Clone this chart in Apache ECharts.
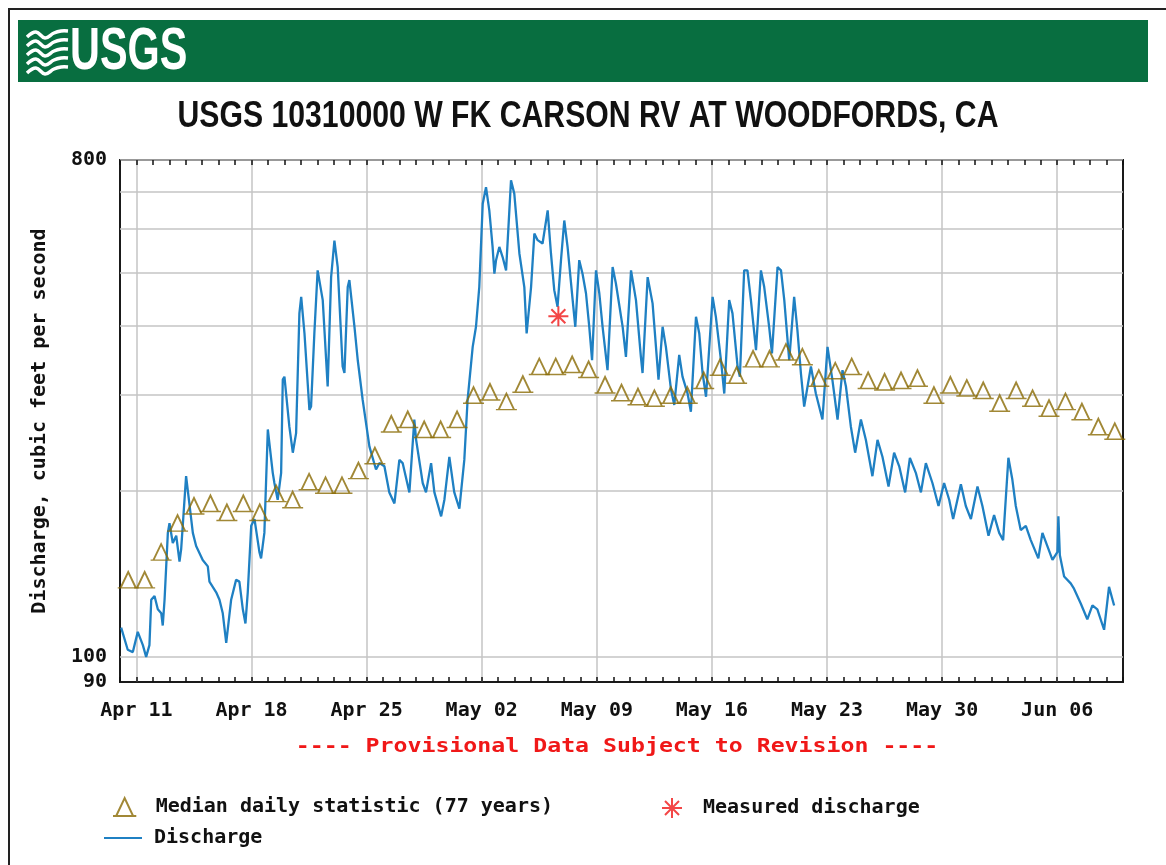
<!DOCTYPE html>
<html>
<head>
<meta charset="utf-8">
<title>USGS 10310000 W FK CARSON RV AT WOODFORDS, CA</title>
<script src="https://cdn.jsdelivr.net/npm/echarts@6/dist/echarts.min.js"></script>
<style>
  html, body { margin: 0; padding: 0; background: #ffffff; }
  #chart { width: 1166px; height: 865px; }
</style>
</head>
<body>
<div id="chart"></div>
<script>
// Station and labels
const stationTitle = 'USGS 10310000 W FK CARSON RV AT WOODFORDS, CA';
const provisionalNote = '---- Provisional Data Subject to Revision ----';
const yAxisTitle = 'Discharge, cubic feet per second';

// X axis: days counted from Apr 10 00:00 (period runs Apr 10 – Jun 10)
const periodDays = 61;
const weekTickDays = [1, 8, 15, 22, 29, 36, 43, 50, 57];
const weekTickLabels = ['Apr 11', 'Apr 18', 'Apr 25', 'May 02', 'May 09', 'May 16', 'May 23', 'May 30', 'Jun 06'];

// Y axis (log scale, cfs)
const yMin = 90;
const yMax = 800;
const yGridValues = [100, 200, 300, 400, 500, 600, 700, 800];
const yLabelValues = [90, 100, 800];

// Median daily statistic (77 years), one value per day starting Apr 10
const medianCfs = [
  138, 138, 155, 175, 188, 190, 183, 190, 183, 198,
  193, 208, 205, 205, 218, 232, 265, 270, 259, 259,
  270, 299, 303, 291, 313, 337, 337, 340, 333, 312,
  302, 297, 295, 299, 299, 318, 336, 325, 348, 348,
  358, 351, 321, 331, 337, 318, 316, 318, 321, 299,
  312, 308, 305, 289, 305, 295, 283, 291, 279, 262,
  257
];

// Measured discharge: [day, cfs]
const measured = [[26.66, 416]];

// Discharge (provisional): [day, cfs]
const discharge = [
  [0.07, 113], [0.47, 103], [0.78, 102], [1.08, 111], [1.39, 105], [1.59, 100], [1.79, 105],
  [1.90, 127], [2.10, 129], [2.30, 122], [2.51, 120], [2.60, 114], [2.71, 127], [2.91, 168],
  [3.01, 175], [3.21, 161], [3.42, 166], [3.62, 149], [3.72, 157], [4.02, 213], [4.43, 168],
  [4.63, 159], [5.03, 150], [5.34, 146], [5.44, 137], [5.85, 131], [6.05, 127], [6.25, 120],
  [6.46, 106], [6.76, 127], [7.06, 138], [7.26, 137], [7.47, 122], [7.63, 115], [7.77, 131],
  [7.98, 173], [8.18, 178], [8.48, 155], [8.58, 151], [8.78, 168], [8.99, 259], [9.09, 261],
  [9.29, 216], [9.39, 207], [9.59, 193], [9.80, 216], [9.90, 319], [10.00, 323], [10.30, 262],
  [10.51, 235], [10.71, 255], [10.91, 421], [11.02, 451], [11.22, 387], [11.52, 281], [11.62, 285],
  [11.82, 387], [12.02, 504], [12.33, 445], [12.63, 310], [12.84, 490], [13.04, 571], [13.24, 511],
  [13.54, 337], [13.65, 328], [13.85, 470], [13.95, 484], [14.26, 398], [14.46, 346], [14.76, 293],
  [15.17, 241], [15.57, 219], [15.78, 225], [16.08, 222], [16.38, 199], [16.69, 190], [16.99, 228],
  [17.19, 225], [17.60, 199], [17.90, 270], [18.01, 248], [18.41, 207], [18.61, 199], [18.92, 225],
  [19.12, 199], [19.53, 180], [19.73, 193], [20.03, 231], [20.33, 199], [20.64, 186], [20.94, 228],
  [21.14, 293], [21.45, 366], [21.65, 398], [21.85, 470], [22.06, 666], [22.26, 714], [22.46, 648],
  [22.66, 556], [22.77, 497], [22.87, 526], [23.07, 556], [23.27, 533], [23.48, 504], [23.68, 648],
  [23.78, 735], [23.98, 695], [24.29, 541], [24.59, 470], [24.73, 387], [25.00, 470], [25.20, 588],
  [25.40, 572], [25.70, 564], [26.01, 648], [26.21, 541], [26.41, 464], [26.61, 433], [26.82, 526],
  [27.02, 621], [27.22, 556], [27.53, 445], [27.69, 398], [27.93, 526], [28.13, 497], [28.34, 458],
  [28.54, 398], [28.71, 346], [28.95, 504], [29.15, 458], [29.35, 398], [29.65, 332], [29.96, 511],
  [30.16, 477], [30.57, 398], [30.77, 351], [31.08, 504], [31.38, 445], [31.68, 351], [31.78, 328],
  [32.09, 490], [32.39, 439], [32.69, 337], [32.75, 319], [33.00, 398], [33.20, 366], [33.51, 306],
  [33.71, 287], [34.01, 354], [34.21, 323], [34.52, 301], [34.72, 279], [35.03, 415], [35.23, 387],
  [35.43, 328], [35.64, 297], [36.04, 451], [36.24, 415], [36.55, 346], [36.75, 301], [37.05, 445],
  [37.25, 421], [37.56, 337], [37.70, 323], [37.96, 504], [38.16, 504], [38.37, 445], [38.68, 361],
  [38.98, 504], [39.18, 470], [39.48, 398], [39.65, 356], [39.99, 511], [40.20, 504], [40.40, 445],
  [40.70, 346], [41.00, 451], [41.20, 392], [41.41, 328], [41.61, 285], [42.02, 337], [42.32, 301],
  [42.72, 270], [43.03, 366], [43.33, 318], [43.64, 270], [43.94, 332], [44.15, 310], [44.45, 262],
  [44.71, 235], [45.06, 270], [45.36, 248], [45.76, 213], [46.07, 248], [46.37, 231], [46.74, 204],
  [47.08, 235], [47.39, 222], [47.75, 199], [48.04, 230], [48.40, 216], [48.71, 199], [49.01, 225],
  [49.41, 207], [49.78, 188], [50.12, 207], [50.43, 193], [50.67, 178], [51.14, 206], [51.44, 188],
  [51.75, 178], [52.15, 204], [52.45, 188], [52.82, 166], [53.16, 181], [53.47, 168], [53.71, 163],
  [54.03, 230], [54.27, 210], [54.48, 188], [54.78, 170], [55.09, 173], [55.39, 163], [55.85, 151],
  [56.10, 168], [56.40, 159], [56.71, 150], [57.01, 155], [57.07, 180], [57.16, 153], [57.42, 140],
  [57.82, 136], [58.02, 133], [58.43, 125], [58.83, 117], [59.14, 124], [59.44, 122], [59.85, 112],
  [60.15, 134], [60.46, 124]
];

// Shared styling
const monoFont = '"DejaVu Sans Mono", "Liberation Mono", monospace';
const sansFont = '"Liberation Sans", Arial, sans-serif';
const inkColor = '#111111';
const gridColor = '#c4c4c4';
const dischargeColor = '#1f80c3';
const medianColor = '#8a6a04';
const measuredColor = '#f01818';
const usgsGreen = '#086e40';

const triangleSymbol = 'path://M3,18 L11,1 L19,18 Z M0,18 L22,18';
const asteriskSymbol = 'path://M10,0 L10,20 M0,10 L20,10 M3,3 L17,17 M17,3 L3,17';

const dayTicks = Array.from({ length: periodDays + 1 }, (_, i) => i);
const weekLabelOf = {};
weekTickDays.forEach((d, i) => { weekLabelOf[d] = weekTickLabels[i]; });

const gridBox = { left: 120, top: 160, right: 43, bottom: 183 };

const labelText = { fontFamily: monoFont, fontWeight: 'bold', fontSize: 20, color: inkColor };

// white wave stripes of the agency mark
function waveStripe(y0) {
  return {
    type: 'polyline', silent: true, z: -4,
    shape: { points: [[27, y0 + 2], [36, y0 - 3], [45, y0 + 3], [54, y0 - 2], [61, y0 - 4], [68, y0 - 4]], smooth: 0.4 },
    style: { fill: 'none', stroke: '#ffffff', lineWidth: 3.5 }
  };
}

const chart = echarts.init(document.getElementById('chart'), null, { renderer: 'canvas' });

chart.setOption({
  animation: false,
  backgroundColor: '#ffffff',
  grid: Object.assign({
    show: true,
    borderColor: '#1a1a1a',
    borderWidth: 2,
    backgroundColor: '#ffffff',
    containLabel: false
  }, gridBox),
  legend: [
    {
      left: 107, top: 792, orient: 'horizontal',
      itemWidth: 38, itemHeight: 18,
      selectedMode: false,
      textStyle: Object.assign({ padding: [0, 0, 0, 7] }, labelText),
      data: ['Median daily statistic (77 years)']
    },
    {
      left: 656, top: 792, orient: 'horizontal',
      itemWidth: 38, itemHeight: 20,
      selectedMode: false,
      textStyle: Object.assign({ padding: [0, 0, 0, 7] }, labelText),
      data: ['Measured discharge']
    },
    {
      left: 99, top: 823, orient: 'horizontal',
      itemWidth: 38, itemHeight: 2,
      icon: 'rect',
      selectedMode: false,
      textStyle: Object.assign({ padding: [0, 0, 0, 7] }, labelText),
      data: ['Discharge']
    }
  ],
  xAxis: [
    {
      // daily ticks and weekly date labels along the bottom
      type: 'value', min: 0, max: periodDays, position: 'bottom',
      axisLine: { show: false },
      axisTick: { show: true, inside: true, length: 5, customValues: dayTicks,
                  lineStyle: { color: inkColor, width: 1.5 } },
      axisLabel: { show: true, customValues: weekTickDays, margin: 19,
                   formatter: v => weekLabelOf[v] || '', ...labelText },
      splitLine: { show: false }
    },
    {
      // weekly vertical grid lines
      type: 'value', min: 0, max: periodDays, position: 'bottom',
      axisLine: { show: false },
      axisTick: { show: false, customValues: weekTickDays },
      axisLabel: { show: false },
      splitLine: { show: true, lineStyle: { color: gridColor, width: 1.5 } }
    },
    {
      // daily ticks along the top edge
      type: 'value', min: 0, max: periodDays, position: 'top',
      axisLine: { show: false },
      axisTick: { show: true, inside: true, length: 5, customValues: dayTicks,
                  lineStyle: { color: inkColor, width: 1.5 } },
      axisLabel: { show: false },
      splitLine: { show: false }
    }
  ],
  yAxis: [
    {
      type: 'log', logBase: 10, min: yMin, max: yMax,
      name: yAxisTitle,
      nameLocation: 'middle',
      nameGap: 70,
      nameTextStyle: { ...labelText },
      axisLine: { show: false },
      axisTick: { show: false, customValues: yGridValues },
      axisLabel: { show: true, customValues: yLabelValues, margin: 13, ...labelText },
      splitLine: { show: true, lineStyle: { color: gridColor, width: 1.5 } }
    }
  ],
  series: [
    {
      name: 'Discharge',
      type: 'line',
      xAxisIndex: 0, yAxisIndex: 0,
      data: discharge,
      symbol: 'none',
      lineStyle: { color: dischargeColor, width: 2.3 },
      itemStyle: { color: dischargeColor },
      silent: true,
      emphasis: { disabled: true },
      z: 2
    },
    {
      name: 'Median daily statistic (77 years)',
      type: 'scatter',
      xAxisIndex: 0, yAxisIndex: 0,
      data: medianCfs.map((v, i) => [i + 0.5, v]),
      symbol: triangleSymbol,
      symbolSize: [21, 16],
      itemStyle: { color: 'rgba(0,0,0,0)', borderColor: medianColor, borderWidth: 1.7 },
      silent: true,
      emphasis: { disabled: true },
      z: 3
    },
    {
      name: 'Measured discharge',
      type: 'scatter',
      xAxisIndex: 0, yAxisIndex: 0,
      data: measured,
      symbol: asteriskSymbol,
      symbolSize: 20,
      itemStyle: { color: 'rgba(0,0,0,0)', borderColor: measuredColor, borderWidth: 2 },
      silent: true,
      emphasis: { disabled: true },
      z: 4
    }
  ],
  graphic: [
    // page frame
    { type: 'rect', silent: true, z: -10,
      shape: { x: 9, y: 9, width: 1180, height: 880 },
      style: { fill: 'none', stroke: '#222222', lineWidth: 2 } },
    // agency banner
    { type: 'rect', silent: true, z: -5,
      shape: { x: 18, y: 20, width: 1130, height: 62 },
      style: { fill: usgsGreen } },
    waveStripe(35), waveStripe(44), waveStripe(53), waveStripe(62), waveStripe(71),
    { type: 'text', silent: true, z: -4, x: 70, y: 52, scaleX: 0.69,
      style: { text: 'USGS', fill: '#ffffff', align: 'left', verticalAlign: 'middle',
               font: 'bold 60px ' + sansFont } },
    // station title (condensed)
    { type: 'text', silent: true, x: 588, y: 117, scaleX: 0.816,
      style: { text: stationTitle, fill: inkColor, align: 'center', verticalAlign: 'middle',
               font: 'bold 37px ' + sansFont } },
    // provisional data note (wide bitmap-style lettering)
    { type: 'text', silent: true, x: 617, y: 747, scaleX: 1.16,
      style: { text: provisionalNote, fill: measuredColor, align: 'center', verticalAlign: 'middle',
               font: 'bold 20px ' + monoFont } }
  ]
});
</script>
</body>
</html>
